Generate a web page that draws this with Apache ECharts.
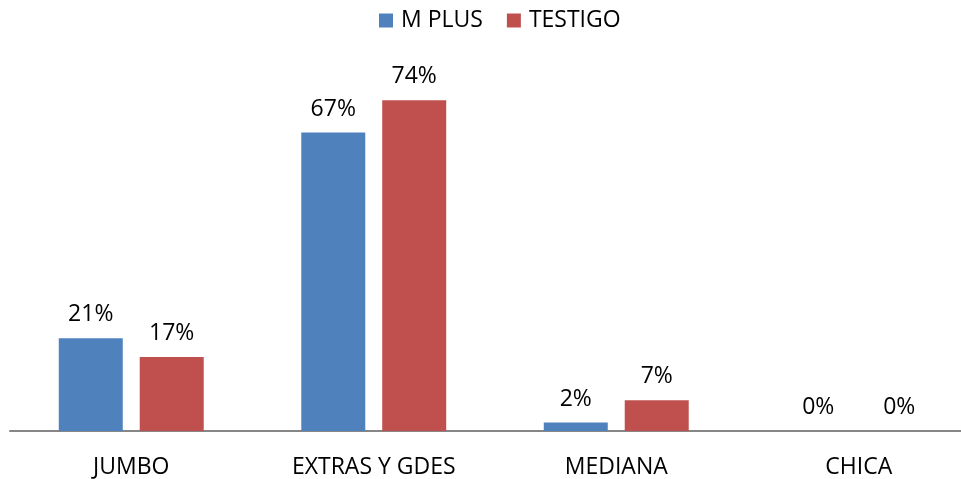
<!DOCTYPE html>
<html>
<head>
<meta charset="utf-8">
<script src="https://cdn.jsdelivr.net/npm/echarts@6/dist/echarts.min.js"></script>
<style>html,body{margin:0;padding:0;background:#fff}#c{width:961px;height:479px}</style>
</head>
<body>
<div id="c"></div>
<script>
const categories = ['JUMBO', 'EXTRAS Y GDES', 'MEDIANA', 'CHICA'];
const seriesNames = ['M PLUS', 'TESTIGO'];
const mPlus = [20.8, 66.9, 1.9, 0];
const testigo = [16.6, 74.1, 6.9, 0];

const FONT = '"Open Sans", sans-serif';
const chart = echarts.init(document.getElementById('c'), null, {renderer: 'canvas'});
const labelCfg = {
  show: true, position: 'top', distance: 12,
  color: '#000', fontFamily: FONT, fontSize: 23,
  formatter: p => Math.round(p.value) + '%'
};
chart.setOption({
  animation: false,
  backgroundColor: '#fff',
  legend: {
    top: 4, left: 374,
    itemWidth: 14, itemHeight: 14, itemGap: 24,
    icon: 'rect',
    textStyle: {fontFamily: FONT, fontSize: 23, color: '#000', padding: [0, 0, 0, 3]},
    data: seriesNames
  },
  grid: {left: 10, width: 970, top: 74, height: 357, containLabel: false, outerBoundsMode: 'none'},
  xAxis: {
    type: 'category', data: categories,
    axisLine: {lineStyle: {color: '#868686', width: 2}},
    axisTick: {show: false},
    axisLabel: {color: '#000', fontFamily: FONT, fontSize: 23, margin: 25}
  },
  yAxis: {type: 'value', min: 0, max: 80, show: false, splitLine: {show: false}},
  series: [
    {name: seriesNames[0], type: 'bar', data: mPlus, barWidth: 64, barGap: '26.5%',
     itemStyle: {color: '#4F81BD'}, label: labelCfg},
    {name: seriesNames[1], type: 'bar', data: testigo, barWidth: 64, barGap: '26.5%',
     itemStyle: {color: '#C0504D'}, label: labelCfg}
  ]
});
</script>
</body>
</html>
